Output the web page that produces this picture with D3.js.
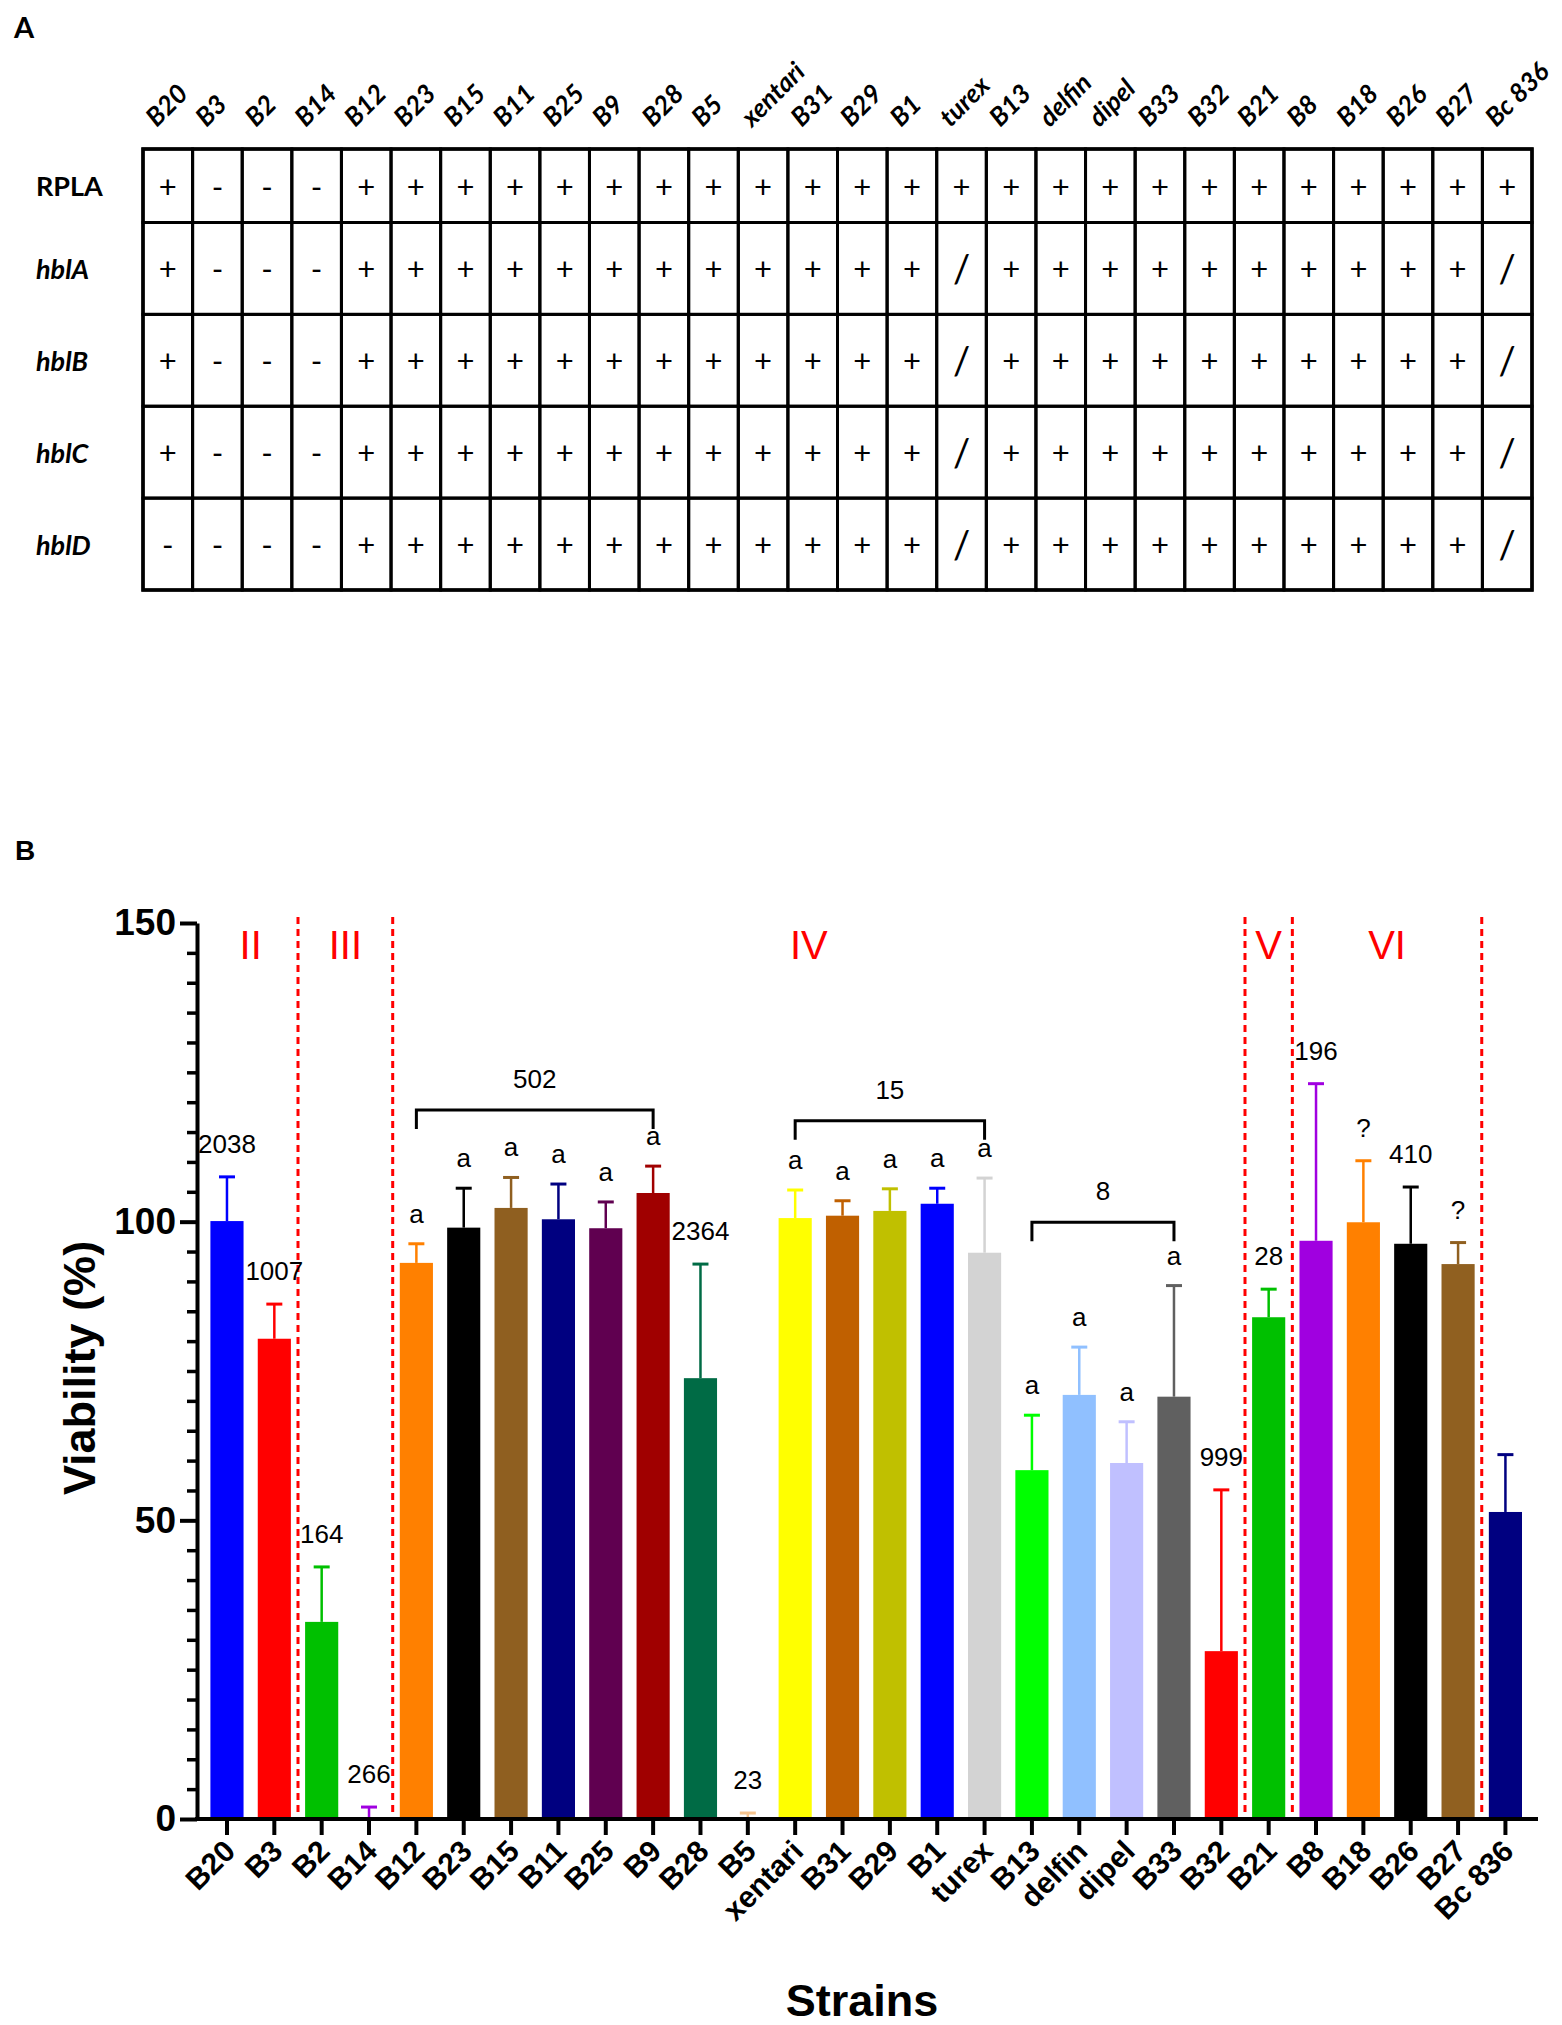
<!DOCTYPE html>
<html><head><meta charset="utf-8">
<script src="https://cdn.jsdelivr.net/npm/d3@7/dist/d3.min.js"></script>
<style>body{margin:0;background:#fff}svg{display:block}</style>
</head><body><svg id="c" width="1562" height="2025"></svg>
<script>
// ---------- DATA ----------
const strains = ["B20","B3","B2","B14","B12","B23","B15","B11","B25","B9","B28","B5","xentari","B31","B29","B1","turex","B13","delfin","dipel","B33","B32","B21","B8","B18","B26","B27","Bc 836"];
const tableRowNames = ["RPLA","hblA","hblB","hblC","hblD"];
const rowRPLA = ["+","-","-","-","+","+","+","+","+","+","+","+","+","+","+","+","+","+","+","+","+","+","+","+","+","+","+","+"];
const rowHblA = ["+","-","-","-","+","+","+","+","+","+","+","+","+","+","+","+","/","+","+","+","+","+","+","+","+","+","+","/"];
const rowHblB = ["+","-","-","-","+","+","+","+","+","+","+","+","+","+","+","+","/","+","+","+","+","+","+","+","+","+","+","/"];
const rowHblC = ["+","-","-","-","+","+","+","+","+","+","+","+","+","+","+","+","/","+","+","+","+","+","+","+","+","+","+","/"];
const rowHblD = ["-","-","-","-","+","+","+","+","+","+","+","+","+","+","+","+","/","+","+","+","+","+","+","+","+","+","+","/"];
const viability = [100.1,80.4,33.0,0.3,93.1,99.0,102.3,100.4,98.9,104.8,73.8,0.3,100.6,101.0,101.8,103.0,94.8,58.4,71.0,59.6,70.7,28.1,84.0,96.8,99.9,96.3,92.9,51.4];
const viabilitySD = [7.4,5.8,9.2,1.7,3.2,6.6,5.1,5.9,4.4,4.5,19.1,0.7,4.7,2.5,3.7,2.6,12.5,9.2,8.0,6.9,18.6,27.0,4.7,26.3,10.3,9.5,3.6,9.6];
const barLabels = ["2038","1007","164","266","a","a","a","a","a","a","2364","23","a","a","a","a","a","a","a","a","a","999","28","196","?","410","?",""];
const barColors = ["#0000FF","#FF0000","#00C000","#A000E0","#FF8000","#000000","#8F5F20","#000080","#600050","#A00000","#006B45","#F6C48E","#FFFF00","#C06000","#C0C000","#0000FF","#D3D3D3","#00FF00","#90C0FF","#C0C0FF","#606060","#FF0000","#00C000","#A000E0","#FF8000","#000000","#906020","#000080"];
const groupNames = ["II","III","IV","V","VI"];
const groupFirst = ["B20","B2","B12","B21","B8"];
const groupLast  = ["B3","B14","B32","B21","B27"];
const dividerBefore = ["B2","B12","B21","B8","Bc 836"];
const bracketLabels = ["502","15","8"];
const bracketFrom = ["B12","xentari","B13"];
const bracketTo = ["B9","turex","B33"];
const bracketLevel = [118.7,116.9,99.9];
const yTicks = [0,50,100,150];

// ---------- SVG ----------
const svg = d3.select("#c");
const TF = "Lato, 'Open Sans', sans-serif";
const CF = "'Liberation Sans', Arial, sans-serif";

// ===== Panel A: table =====
svg.append("text").attr("x",14).attr("y",38).attr("font-family",TF).attr("font-weight",700)
  .attr("font-size",29).text("A");

const tableRows = [rowRPLA,rowHblA,rowHblB,rowHblC,rowHblD];
const colScale = d3.scaleBand().domain(strains).range([143,1532]);
const rowWeights = [0.8,1,1,1,1];
const rowCum = [0]; rowWeights.forEach((w,i)=>rowCum.push(rowCum[i]+w));
const rowScale = d3.scaleLinear().domain([0,rowCum[rowCum.length-1]]).range([149,590]);

const tA = svg.append("g");
tableRows.forEach((row,ri)=>{
  const y0 = rowScale(rowCum[ri]), y1 = rowScale(rowCum[ri+1]);
  tA.selectAll(null).data(row).enter().append("rect")
    .attr("x",(d,i)=>colScale(strains[i])).attr("y",y0)
    .attr("width",colScale.bandwidth()).attr("height",y1-y0)
    .attr("fill","none").attr("stroke","#000").attr("stroke-width",3);
  tA.selectAll(null).data(row).enter().append("text")
    .attr("x",(d,i)=>colScale(strains[i])+colScale.bandwidth()/2)
    .attr("y",(y0+y1)/2)
    .attr("text-anchor","middle").attr("dominant-baseline","central")
    .attr("font-family",TF).attr("font-size",d=>d==="/"?38:31)
    .text(d=>d);
  tA.append("text").attr("x",36).attr("y",(y0+y1)/2)
    .attr("dominant-baseline","central")
    .attr("font-family",TF).attr("font-weight",700).attr("font-size",27)
    .attr("font-style",ri===0?"normal":"italic")
    .text(tableRowNames[ri]);
});
tA.append("rect").attr("x",143).attr("y",149).attr("width",1532-143).attr("height",590-149)
  .attr("fill","none").attr("stroke","#000").attr("stroke-width",3.5);

tA.selectAll(".hdr").data(strains).enter().append("text")
  .attr("transform",d=>`translate(${colScale(d)+colScale.bandwidth()/2-11},128) rotate(-45)`)
  .attr("font-family",TF).attr("font-weight",700).attr("font-style","italic")
  .attr("font-size",26).text(d=>d);

// ===== Panel B: bar chart =====
svg.append("text").attr("x",15).attr("y",860).attr("font-family",CF).attr("font-weight",700)
  .attr("font-size",28).text("B");

const x = d3.scaleBand().domain(strains).range([203.3,1529.1]).paddingInner(0.3).paddingOuter(0.15);
const y = d3.scaleLinear().domain([0,150]).range([1819,923]);
const step = x.step(), bw = x.bandwidth();
const cx = d => x(d)+bw/2;
const axisX0 = 197, axisX1 = 1538;

const g = svg.append("g");

// dashed group dividers
g.selectAll(".div").data(dividerBefore).enter().append("line")
  .attr("x1",d=>x(d)-(step-bw)/2).attr("x2",d=>x(d)-(step-bw)/2)
  .attr("y1",917).attr("y2",y(0))
  .attr("stroke","#FF0000").attr("stroke-width",3).attr("stroke-dasharray","7,5");

// roman numerals
g.selectAll(".rom").data(groupNames).enter().append("text")
  .attr("x",(d,i)=>(cx(groupFirst[i])+cx(groupLast[i]))/2 - (d==="IV"?10:0))
  .attr("y",959).attr("text-anchor","middle")
  .attr("font-family",CF).attr("font-size",40).attr("fill","#FF0000")
  .text(d=>d);

// bars
g.selectAll(".bar").data(strains).enter().append("rect")
  .attr("x",d=>x(d)).attr("width",bw)
  .attr("y",(d,i)=>y(viability[i])).attr("height",(d,i)=>y(0)-y(viability[i]))
  .attr("fill",(d,i)=>barColors[i]);

// error bars
g.selectAll(".eb").data(strains).enter().append("line")
  .attr("x1",cx).attr("x2",cx)
  .attr("y1",(d,i)=>y(viability[i])).attr("y2",(d,i)=>y(viability[i]+viabilitySD[i]))
  .attr("stroke",(d,i)=>barColors[i]).attr("stroke-width",2.5);
g.selectAll(".ec").data(strains).enter().append("line")
  .attr("x1",d=>cx(d)-8).attr("x2",d=>cx(d)+8)
  .attr("y1",(d,i)=>y(viability[i]+viabilitySD[i])).attr("y2",(d,i)=>y(viability[i]+viabilitySD[i]))
  .attr("stroke",(d,i)=>barColors[i]).attr("stroke-width",3);

// bar labels
g.selectAll(".bl").data(strains).enter().append("text")
  .attr("x",cx)
  .attr("y",(d,i)=>y(viability[i]+viabilitySD[i])-(barLabels[i]==="a"?21:24))
  .attr("text-anchor","middle").attr("font-family",CF).attr("font-size",26)
  .text((d,i)=>barLabels[i]);

// brackets
bracketLabels.forEach((lab,i)=>{
  const xa = cx(bracketFrom[i]), xb = cx(bracketTo[i]), yy = y(bracketLevel[i]);
  g.append("path").attr("d",`M${xa},${yy+19}V${yy}H${xb}V${yy+19}`)
    .attr("fill","none").attr("stroke","#000").attr("stroke-width",3);
  g.append("text").attr("x",(xa+xb)/2).attr("y",yy-22).attr("text-anchor","middle")
    .attr("font-family",CF).attr("font-size",26).text(lab);
});

// y axis
const yAxis = d3.axisLeft(y).tickValues(yTicks).tickSize(17).tickSizeOuter(0).tickPadding(4);
const gy = svg.append("g").attr("transform",`translate(${axisX0},0)`).call(yAxis);
gy.select(".domain").attr("stroke-width",4);
gy.selectAll(".tick line").attr("stroke-width",4);
gy.selectAll(".tick text").attr("font-family",CF).attr("font-weight",700).attr("font-size",37);
const minor = d3.range(5,150,5).filter(v=>v%50!==0);
svg.append("g").attr("transform",`translate(${axisX0},0)`)
  .call(d3.axisLeft(y).tickValues(minor).tickSize(10).tickFormat(""))
  .call(s=>s.select(".domain").remove())
  .selectAll(".tick line").attr("stroke-width",3.5);

// x axis
const gx = svg.append("g").attr("transform",`translate(0,${y(0)})`)
  .call(d3.axisBottom(x).tickSize(16).tickSizeOuter(0).tickFormat(""));
gx.select(".domain").remove();
gx.selectAll(".tick line").attr("stroke-width",4);
svg.append("line").attr("x1",axisX0-2).attr("x2",axisX1).attr("y1",y(0)).attr("y2",y(0))
  .attr("stroke","#000").attr("stroke-width",4);
svg.append("g").selectAll("text").data(strains).enter().append("text")
  .attr("transform",d=>`translate(${cx(d)+10},${y(0)+34}) rotate(-45)`)
  .attr("text-anchor","end").attr("font-family",CF).attr("font-weight",700).attr("font-size",30)
  .text(d=>d);

// axis titles
svg.append("text").attr("x",862).attr("y",2016).attr("text-anchor","middle")
  .attr("font-family",CF).attr("font-weight",700).attr("font-size",45).text("Strains");
svg.append("text").attr("transform",`translate(95,1368) rotate(-90)`).attr("text-anchor","middle")
  .attr("font-family",CF).attr("font-weight",700).attr("font-size",45).text("Viability (%)");
</script></body></html>
